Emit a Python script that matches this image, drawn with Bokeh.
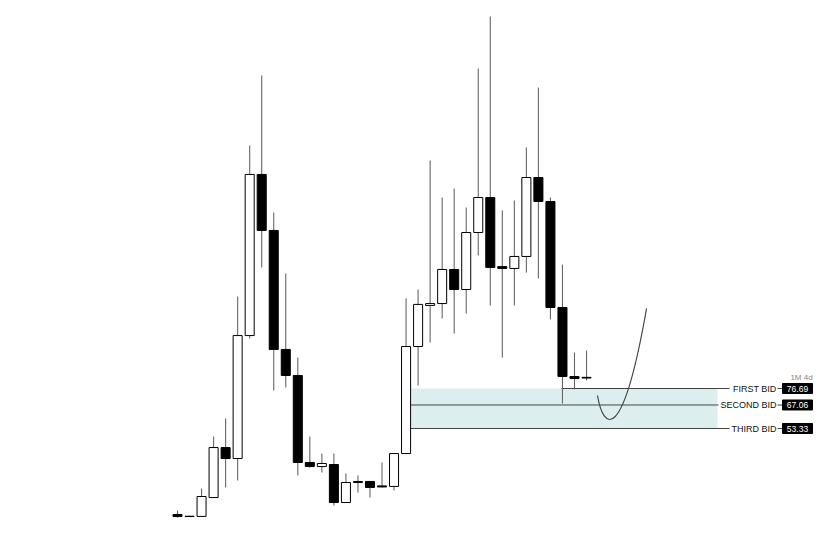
from bokeh.plotting import figure
from bokeh.models import ColumnDataSource, Range1d
from bokeh.core.properties import value
from bokeh.embed import file_html
from bokeh.resources import INLINE

# ---- data (prices) ----
opens  = [3.1, 1.9, 2.0, 13.0, 42.2, 35.8, 107.6, 201.7, 169.0, 99.5, 84.3, 33.5, 31.1, 32.3, 10.1, 21.8, 22.4, 19.8, 19.5, 38.7,
          101.2, 125.2, 126.3, 146.2, 134.5, 167.8, 188.2, 147.9, 146.8, 153.8, 199.9, 185.9, 124.0, 83.7, 83.2]
closes = [1.9, 2.1, 13.6, 42.2, 35.8, 107.6, 201.7, 169.0, 99.5, 84.3, 33.5, 31.1, 32.9, 10.1, 21.8, 22.4, 18.9, 19.2, 38.7, 101.2,
          125.8, 126.3, 146.2, 134.5, 167.8, 188.2, 147.4, 146.8, 153.8, 199.9, 185.9, 124.0, 83.7, 82.5, 82.8]
highs  = [5.4, 2.4, 18.3, 48.7, 59.2, 130.4, 218.6, 259.5, 179.5, 143.9, 94.8, 48.7, 38.7, 38.7, 27.1, 25.9, 22.6, 33.5, 38.9, 129.3,
          134.5, 209.8, 188.2, 193.5, 182.4, 263.6, 293.9, 180.6, 186.5, 217.4, 252.5, 188.2, 149.1, 97.7, 98.9]
lows   = [1.4, 1.7, 1.8, 12.8, 18.9, 23.0, 105.9, 147.4, 75.5, 77.3, 25.9, 30.6, 27.6, 8.4, 9.9, 16.0, 13.0, 18.9, 17.1, 38.5,
          78.4, 103.6, 117.6, 108.8, 120.5, 154.4, 125.2, 94.8, 125.2, 144.4, 140.9, 117.0, 67.9, 76.1, 81.4]

bid_names  = ["FIRST BID", "SECOND BID", "THIRD BID"]
bid_prices = [76.69, 67.06, 53.33]
bid_labels = ["76.69", "67.06", "53.33"]
timeframe_label = "1M 4d"

# projected path (bezier control points: index, price)
path_x = [34.91, 35.41, 36.99, 38.99]
path_y = [72.6, 52.16, 43.4, 123.4]

# ---- layout constants ----
W, H = 825, 535
ORIGIN = 0
PX_X = 12.03   # px per candle
PX_Y = 0.584   # price per px
x0 = (ORIGIN - 177) / PX_X
y_top = 76.69 + (388 - ORIGIN) * PX_Y

def sx(px):
    return (px - 177) / PX_X

p = figure(width=W, height=H, output_backend="svg", toolbar_location=None,
           x_range=Range1d(x0, x0 + W / PX_X), y_range=Range1d(y_top - H * PX_Y, y_top),
           min_border=0, background_fill_color="white", border_fill_color="white")
p.axis.visible = False
p.grid.visible = False
p.outline_line_color = None

n = len(opens)
idx = list(range(n))
up = [c >= o for o, c in zip(opens, closes)]
src = ColumnDataSource(dict(
    x=idx, o=opens, c=closes, h=highs, l=lows,
    top=[max(o, c) for o, c in zip(opens, closes)],
    bot=[min(o, c) for o, c in zip(opens, closes)],
    fill=["white" if u else "black" for u in up],
))

# zone
zone_bottom, zone_top = min(bid_prices), max(bid_prices)
p.quad(left=sx(410), right=sx(717), bottom=zone_bottom, top=zone_top,
       fill_color="#dcefee", line_color=None)

# bid lines
line_starts = [sx(561), sx(410), sx(410)]
line_ends = [sx(729), sx(718), sx(729)]
p.segment(x0=line_starts, y0=bid_prices, x1=line_ends, y1=bid_prices,
          line_color="#444444", line_width=1)

# candles
p.segment(x0="x", y0="l", x1="x", y1="h", source=src, line_color="#666666", line_width=1.1)
p.vbar(x="x", top="top", bottom="bot", width=0.75, source=src,
       fill_color="fill", line_color="black", line_width=1)

# projected path
p.bezier(x0=[path_x[0]], y0=[path_y[0]], cx0=[path_x[1]], cy0=[path_y[1]],
         cx1=[path_x[2]], cy1=[path_y[2]], x1=[path_x[3]], y1=[path_y[3]],
         line_color="#444444", line_width=1.2)

# labels
p.text(x=[sx(776)] * 3, y=bid_prices, text=bid_names, text_align="right", text_baseline="middle",
       text_font=value("Liberation Sans"), text_font_size="9px", text_color="#111111")
p.segment(x0=[sx(777)] * 3, y0=bid_prices, x1=[sx(782)] * 3, y1=bid_prices,
          line_color="#444444", line_width=1)
p.rect(x=[sx(797)] * 3, y=bid_prices, width=30, height=10, width_units="screen", height_units="screen",
       fill_color="black", line_color="black")
p.text(x=[sx(797)] * 3, y=bid_prices, text=bid_labels, text_align="center", text_baseline="middle",
       text_font=value("Liberation Sans"), text_font_size="8.5px", text_color="white")
p.text(x=[sx(801)], y=[bid_prices[0] + 11 * PX_Y], text=[timeframe_label], text_align="center",
       text_baseline="middle", text_font=value("Liberation Sans"), text_font_size="8px", text_color="#888888")

open("out.html", "w").write(file_html(p, INLINE))
